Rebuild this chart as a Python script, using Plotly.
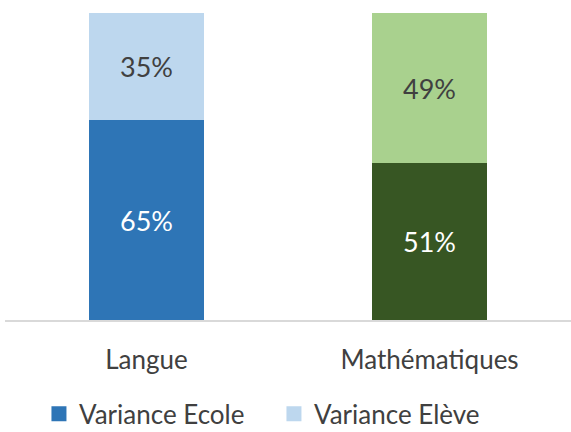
import plotly.graph_objects as go

categories = ["Langue", "Mathématiques"]
variance_ecole = [0.65, 0.51]
variance_eleve = [0.35, 0.49]
series_names = ["Variance Ecole", "Variance Elève"]

ecole_colors = ["#2E75B6", "#375623"]
eleve_colors = ["#BDD7EE", "#A9D18E"]
legend_colors = ["#2E75B6", "#BDD7EE"]

fig = go.Figure()
fig.add_trace(go.Bar(
    name=series_names[0], x=categories, y=variance_ecole,
    marker=dict(color=ecole_colors, line=dict(width=0)),
    texttemplate="%{y:.0%}", textposition="inside", insidetextanchor="middle",
    textfont=dict(color=["#FFFFFF", "#FFFFFF"], size=27),
    hoverinfo="skip", showlegend=False,
))
fig.add_trace(go.Bar(
    name=series_names[1], x=categories, y=variance_eleve,
    marker=dict(color=eleve_colors, line=dict(width=0)),
    texttemplate="%{y:.0%}", textposition="inside", insidetextanchor="middle",
    textfont=dict(color=["#404040", "#404040"], size=27),
    hoverinfo="skip", showlegend=False,
))
for name, col in zip(series_names, legend_colors):
    fig.add_trace(go.Scatter(
        x=[None], y=[None], mode="markers", name=name,
        marker=dict(symbol="square", size=15, color=col),
    ))

fig.update_layout(
    barmode="stack",
    bargap=0.595,
    width=571, height=432,
    margin=dict(l=5, r=0, t=13, b=112, autoexpand=False),
    paper_bgcolor="white", plot_bgcolor="white",
    font=dict(family="Lato, sans-serif", size=26, color="#404040"),
    xaxis=dict(showline=True, linecolor="#D9D9D9", linewidth=1.5, ticks="",
               tickfont=dict(size=26, color="#404040"), showgrid=False,
               ticklabelstandoff=16, automargin=False),
    yaxis=dict(range=[0, 1], visible=False, showgrid=False, automargin=False),
    legend=dict(orientation="h", x=0.06, xanchor="left", y=-0.306, yanchor="middle",
                font=dict(size=26, color="#404040"), traceorder="normal",
                itemwidth=30, entrywidth=190),
)
fig.write_html("out.html", config={"displayModeBar": False},
               post_script="document.body.style.margin='0';")
